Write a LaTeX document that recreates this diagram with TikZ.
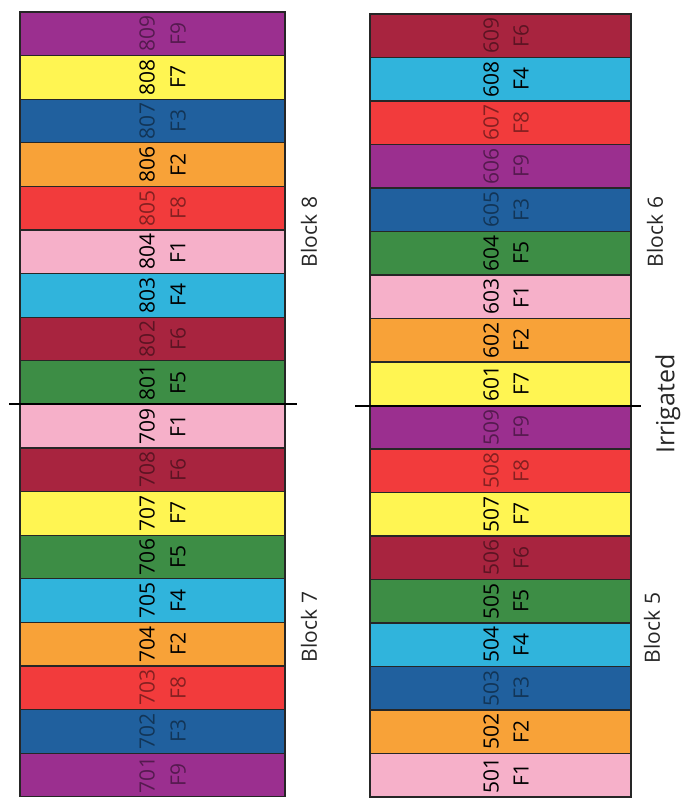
\documentclass[tikz,border=0pt]{standalone}
\usepackage{fontspec}
\setmainfont{Open Sans}
\definecolor{cF9}{HTML}{9B2F8F}
\definecolor{cF7}{HTML}{FFF552}
\definecolor{cF3}{HTML}{20609E}
\definecolor{cF2}{HTML}{F8A238}
\definecolor{cF8}{HTML}{F23B3C}
\definecolor{cF1}{HTML}{F6B0C9}
\definecolor{cF4}{HTML}{30B4DC}
\definecolor{cF6}{HTML}{A8243F}
\definecolor{cF5}{HTML}{3D8D45}
\colorlet{tF9}{cF9!55!black}
\colorlet{tF3}{cF3!55!black}
\colorlet{tF8}{cF8!55!black}
\colorlet{tF6}{cF6!55!black}
\colorlet{tF7}{black}
\colorlet{tF2}{black}
\colorlet{tF1}{black}
\colorlet{tF4}{black}
\colorlet{tF5}{black}
\tikzset{
  strip/.style={draw=black!85, line width=1.2pt, anchor=north west, inner sep=0pt, outer sep=0pt},
  lab/.style={rotate=90, inner sep=0pt, font=\fontsize{21}{21}\selectfont},
  blk/.style={rotate=90, inner sep=0pt, text=black!85, font=\fontsize{21}{21}\selectfont},
  divider/.style={line width=2pt, black}
}
\begin{document}
\begin{tikzpicture}[x=1pt,y=-1pt]
\useasboundingbox (0,0) rectangle (686,804);
% left column
\foreach \n/\f [count=\i from 0] in {809/F9,808/F7,807/F3,806/F2,805/F8,804/F1,803/F4,802/F6,801/F5,709/F1,708/F6,707/F7,706/F5,705/F4,704/F2,703/F8,702/F3,701/F9}{
  \node[strip, fill=c\f, minimum width=265pt, minimum height=43.6pt] (s\n) at (20,{12+\i*43.6}) {};
  \node[lab, text=t\f] (n\n) at ([xshift=-5.5pt]s\n.center) {\n};
  \node[lab, text=t\f] (f\n) at ([xshift=25.5pt]s\n.center) {\f};
}
% right column
\foreach \n/\f [count=\i from 0] in {609/F6,608/F4,607/F8,606/F9,605/F3,604/F5,603/F1,602/F2,601/F7,509/F9,508/F8,507/F7,506/F6,505/F5,504/F4,503/F3,502/F2,501/F1}{
  \node[strip, fill=c\f, minimum width=261pt, minimum height=43.5pt] (s\n) at (370,{14+\i*43.5}) {};
  \node[lab, text=t\f] (n\n) at ([xshift=-9.5pt]s\n.center) {\n};
  \node[lab, text=t\f] (f\n) at ([xshift=20.5pt]s\n.center) {\f};
}
% dividers
\coordinate (dla) at (9,404);
\coordinate (dlb) at (297,404);
\coordinate (dra) at (355,406);
\coordinate (drb) at (641,406);
\draw[divider] (dla) -- (dlb);
\draw[divider] (dra) -- (drb);
% labels
\node[blk] (b8) at (309,232) {Block 8};
\node[blk] (b7) at (309,627) {Block 7};
\node[blk] (b6) at (655,232) {Block 6};
\node[blk] (b5) at (652,628) {Block 5};
\node[blk, font=\fontsize{25}{25}\selectfont] (irr) at (668,404) {Irrigated};
\end{tikzpicture}
\end{document}
